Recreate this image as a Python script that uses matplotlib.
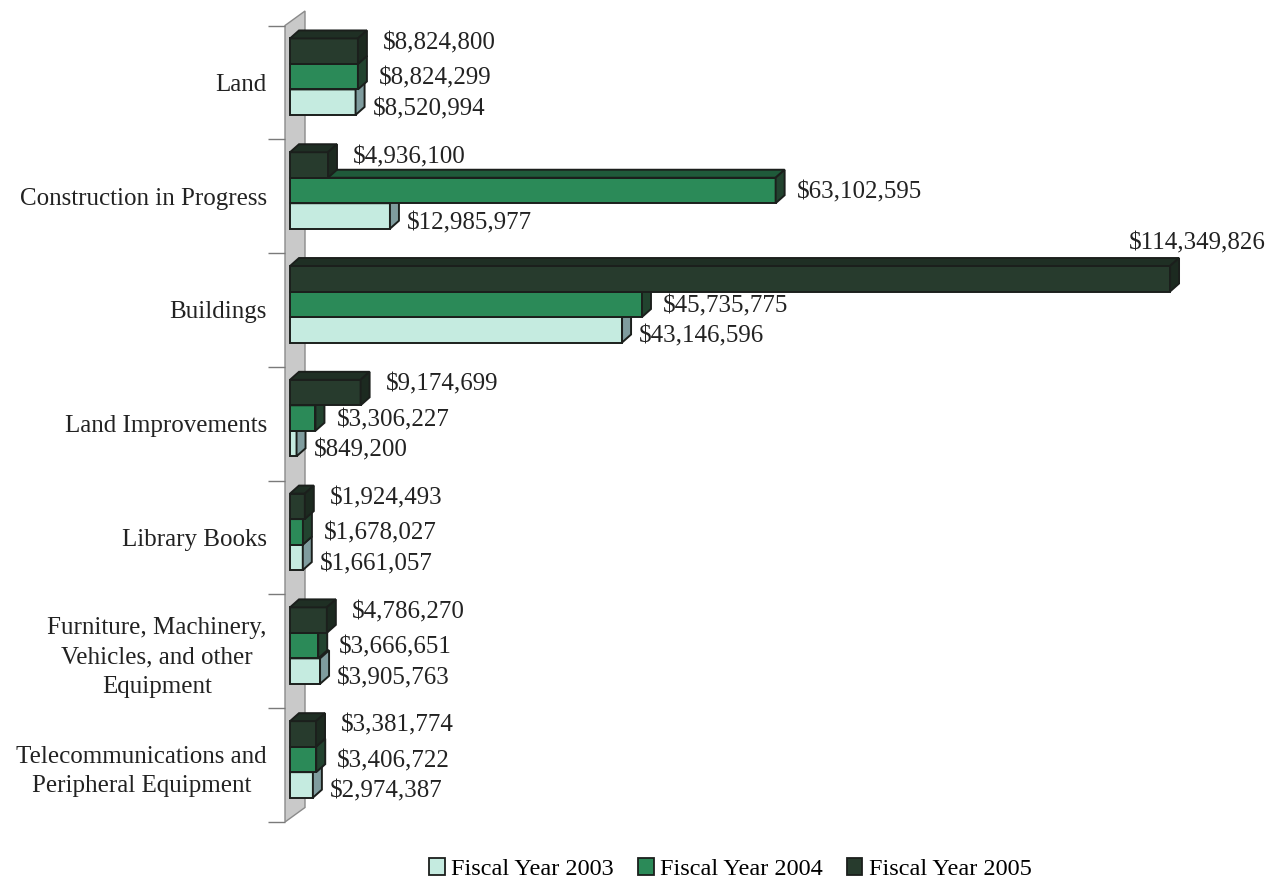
import matplotlib.pyplot as plt
from matplotlib.patches import Polygon, Patch

plt.rcParams['font.family'] = ['Liberation Serif', 'DejaVu Serif']

categories = ['Land', 'Construction in Progress', 'Buildings', 'Land Improvements',
              'Library Books', 'Furniture, Machinery,\nVehicles, and other\nEquipment',
              'Telecommunications and\nPeripheral Equipment']
years = ['Fiscal Year 2003', 'Fiscal Year 2004', 'Fiscal Year 2005']
fy2003 = [8520994, 12985977, 43146596, 849200, 1661057, 3905763, 2974387]
fy2004 = [8824299, 63102595, 45735775, 3306227, 1678027, 3666651, 3406722]
fy2005 = [8824800, 4936100, 114349826, 9174699, 1924493, 4786270, 3381774]

# front / top / side face colours per series
front = ['#c5ebe0', '#2b8a58', '#273b2d']
top = ['#9fc9c0', '#1f5a3a', '#1f2f24']
side = ['#7f9c9e', '#22432f', '#1c2a20']
EDGE = '#1b1f1c'

W, H = 1272, 883
fig = plt.figure(figsize=(W / 100, H / 100), dpi=100)
ax_l, ax_r, ax_t, ax_b = 285, 1272, 25.5, 822
ax = fig.add_axes([ax_l / W, (H - ax_b) / H, (ax_r - ax_l) / W, (ax_b - ax_t) / H])

px_per_unit = 7.696e-6          # pixels per dollar
x0 = -5 / px_per_unit
ax.set_xlim(x0, x0 + (ax_r - ax_l) / px_per_unit)
ax.set_ylim(len(categories) - 0.5, -0.5)
cat_px = (ax_b - ax_t) / len(categories)

# 3-D depth of the bars, in data units
ddx = 9 / px_per_unit
ddy = 8 / cat_px
bar_h = 25.5 / cat_px
shift = -5.7 / cat_px

# back wall
wdx = 20 / px_per_unit
wdy = 14.5 / cat_px
wall = Polygon([(x0, -0.5), (x0 + wdx, -0.5 - wdy),
                (x0 + wdx, len(categories) - 0.5 - wdy), (x0, len(categories) - 0.5)],
               closed=True, facecolor='#c9c9c9', edgecolor='#8a8a8a', lw=1.0,
               clip_on=False, zorder=1)
ax.add_patch(wall)

series = [fy2003, fy2004, fy2005]
offsets = [bar_h, 0, -bar_h]
label_gap = [8, 12, 16]
label_dy = [7, 2, -8]
vmax = max(max(s) for s in series)

for k, vals in enumerate(series):
    ypos = [i + shift + offsets[k] for i in range(len(categories))]
    bars = ax.barh(ypos, vals, height=bar_h, color=front[k], edgecolor=EDGE,
                   lw=1.4, zorder=2 + k, label=years[k])
    for b, v in zip(bars, vals):
        yt, yb = b.get_y(), b.get_y() + b.get_height()
        ax.add_patch(Polygon([(0, yt), (v, yt), (v + ddx, yt - ddy), (ddx, yt - ddy)],
                             closed=True, facecolor=top[k], edgecolor=EDGE, lw=1.4,
                             zorder=2 + k))
        ax.add_patch(Polygon([(v, yt), (v + ddx, yt - ddy), (v + ddx, yb - ddy), (v, yb)],
                             closed=True, facecolor=side[k], edgecolor=EDGE, lw=1.4,
                             zorder=2 + k))
        txt = f'${v:,.0f}'
        yc = (yt + yb) / 2
        if v == vmax:
            ax.text(v + ddx + 18 / px_per_unit, yt - ddy - 15 / cat_px, txt,
                    ha='center', va='center', fontsize=18, color='#222222', zorder=10)
        else:
            ax.text(v + ddx + label_gap[k] / px_per_unit, yc + label_dy[k] / cat_px, txt,
                    ha='left', va='center', fontsize=18, color='#222222', zorder=10)

# category axis
ax.set_yticks(range(len(categories)))
ax.set_yticklabels(categories, fontsize=18, color='#222222', multialignment='center',
                   linespacing=1.45)
ax.tick_params(axis='y', which='major', length=0, pad=13)
ax.set_yticks([i - 0.5 for i in range(len(categories) + 1)], minor=True)
ax.tick_params(axis='y', which='minor', length=12.5, width=1.0, color='#7a7a7a')
ax.set_xticks([])
for s in ax.spines.values():
    s.set_visible(False)

handles = [Patch(facecolor=front[k], edgecolor=EDGE, lw=1.3) for k in range(3)]
fig.legend(handles, years, loc='center', bbox_to_anchor=(0.574, 0.016), ncol=3,
           frameon=False, fontsize=17.5, handlelength=0.65, handleheight=0.75,
           handletextpad=0.25, columnspacing=1.0)

fig.savefig('out.png', dpi=100, facecolor='white')
